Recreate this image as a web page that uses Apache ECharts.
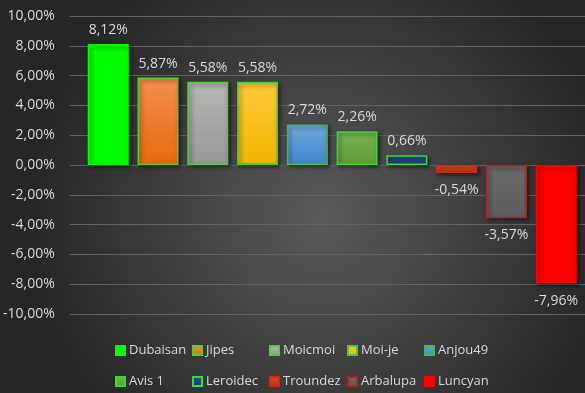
<!DOCTYPE html>
<html><head><meta charset="utf-8">
<script src="https://cdn.jsdelivr.net/npm/echarts@6/dist/echarts.min.js"></script>
<style>html,body{margin:0;padding:0;background:#333}#c{width:585px;height:393px}</style>
</head><body><div id="c"></div>
<script>
const names = ['Dubaisan','Jipes','Moicmoi','Moi-je','Anjou49','Avis 1','Leroidec','Troundez','Arbalupa','Luncyan'];
const values = [8.12, 5.87, 5.58, 5.58, 2.72, 2.26, 0.66, -0.54, -3.57, -7.96];
const yTicks = {min: -10, max: 10, interval: 2};

const fills = [
  ['#00ff00','#00ff00'], ['#f58f4e','#e4690d'], ['#b5b5b5','#979797'], ['#ffca3a','#eeb700'],
  ['#6fa9de','#3f86c8'], ['#77b24f','#5f9d38'], ['#2a4a8e','#1f3a78'], ['#d2561a','#b83a08'],
  ['#6a6a6a','#5e5e5e'], ['#ff0000','#ff0000']
];
const borders = ['#00ff00','#55cc33','#55cc44','#44cc33','#44bb44','#33dd33','#33dd33','#e02020','#b82020','#ff0000'];

function fmt(v){ return v.toFixed(2).replace('.', ',') + '%'; }

// invisible spacer series to shift the bar group right inside the single category
const series = [{
  name: '_spacer', type: 'bar', barWidth: 8, barGap: '21.4%', data: [null], silent: true,
  itemStyle: {color: 'transparent'}
}].concat(names.map((n, i) => ({
  name: n,
  type: 'bar',
  barWidth: 41,
  barGap: '21.4%',
  data: [values[i]],
  itemStyle: {
    color: {type:'linear', x:0, y:0, x2:0, y2:1, colorStops:[{offset:0,color:fills[i][0]},{offset:1,color:fills[i][1]}]},
    borderColor: borders[i],
    borderWidth: 1.5,
    shadowBlur: 4, shadowColor: 'rgba(0,0,0,0.55)', shadowOffsetX: 2, shadowOffsetY: 2
  },
  label: {
    show: true,
    position: values[i] >= 0 ? 'top' : 'bottom',
    distance: values[i] >= 0 ? 7 : 10,
    color: '#d9d9d9',
    fontSize: 14,
    fontFamily: 'Open Sans',
    formatter: p => fmt(p.value)
  }
})));

const colLefts = [115, 192, 269, 347, 424];
const rowTops = [344, 375];
const legends = names.map((n, i) => ({
  left: colLefts[i % 5],
  top: rowTops[Math.floor(i / 5)],
  padding: 0,
  itemWidth: 9,
  itemHeight: 9,
  itemGap: 0,
  icon: 'rect',
  data: [n],
  textStyle: {color: '#d9d9d9', fontSize: 13, fontFamily: 'Open Sans', padding: [0,0,0,-1]},
  selectedMode: false
}));

const chart = echarts.init(document.getElementById('c'), null, {renderer: 'canvas'});
chart.setOption({
  animation: false,
  backgroundColor: {type:'radial', x:0.55, y:0.55, r:0.75, colorStops:[{offset:0,color:'#5a5a5a'},{offset:1,color:'#262626'}]},
  grid: {left: 67, right: 0, top: 16, bottom: 79},
  xAxis: {type: 'category', data: [''], axisLine:{show:false}, axisTick:{show:false}, axisLabel:{show:false}},
  yAxis: {
    type: 'value', min: yTicks.min, max: yTicks.max, interval: yTicks.interval,
    axisLine:{show:false}, axisTick:{show:false},
    axisLabel:{color:'#d9d9d9', fontSize:14, fontFamily:'Open Sans', margin:15, formatter: v => fmt(v)},
    splitLine:{lineStyle:{color:'#636363', width:1}}
  },
  legend: legends,
  series: series
});
</script></body></html>
